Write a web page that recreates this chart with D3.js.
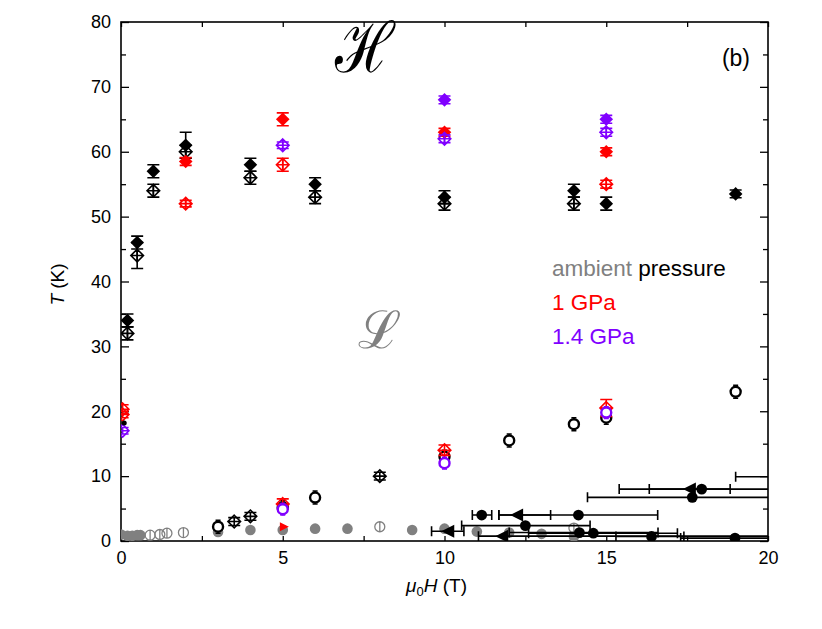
<!DOCTYPE html>
<html>
<head>
<meta charset="utf-8">
<script src="https://cdn.jsdelivr.net/npm/d3@7"></script>
<style>
  body { margin: 0; background: #fff; }
  text { font-family: "Liberation Sans", Arial, sans-serif; }
</style>
</head>
<body>
<div id="chart"></div>
<script>
// ---- data (mu0H in T, T in K, e = vertical error) ----
// high-T branch, ambient pressure
const ambHighFilled = [
  {h: 0.2, t: 34, e: 1}, {h: 0.5, t: 46, e: 1}, {h: 1, t: 57, e: 1}, {h: 2, t: 61, e: 2},
  {h: 4, t: 58, e: 1}, {h: 6, t: 55, e: 1}, {h: 10, t: 53, e: 1}, {h: 14, t: 54, e: 1},
  {h: 15, t: 52, e: 1}, {h: 19, t: 53.5, e: 0.6}
];
const ambHighOpen = [
  {h: 0.2, t: 32, e: 1}, {h: 0.5, t: 44, e: 2}, {h: 1, t: 54, e: 1}, {h: 2, t: 60, e: 1},
  {h: 4, t: 56, e: 1}, {h: 6, t: 53, e: 1}, {h: 10, t: 52, e: 1}, {h: 14, t: 52, e: 1}
];
const gpa1HighFilled = [
  {h: 2, t: 58.5, e: 0.6}, {h: 5, t: 65, e: 1}, {h: 10, t: 63, e: 0.6}, {h: 15, t: 60, e: 0.6}
];
const gpa1HighOpen = [
  {h: 2, t: 52, e: 0.5}, {h: 5, t: 58, e: 1}, {h: 15, t: 55, e: 0.6}
];
const gpa14HighFilled = [
  {h: 10, t: 68, e: 0.6}, {h: 15, t: 65, e: 0.6}
];
const gpa14HighOpen = [
  {h: 5, t: 61, e: 0.5}, {h: 10, t: 62, e: 0.6}, {h: 15, t: 63, e: 0.6}
];

// low-T branch
const ambLowCircle = [
  {h: 3, t: 2.2, e: 1}, {h: 5, t: 5.2, e: 1}, {h: 6, t: 6.7, e: 1}, {h: 10, t: 13, e: 1},
  {h: 12, t: 15.5, e: 1}, {h: 14, t: 18, e: 1}, {h: 15, t: 19, e: 1}, {h: 19, t: 23, e: 1}
];
const ambLowDiamond = [
  {h: 3.5, t: 3, e: 0.6}, {h: 4, t: 3.8, e: 0.6}, {h: 8, t: 10, e: 0.6}
];
const ambLowDot = [{h: 0.1, t: 18.2}];
const gpa1Low = [
  {h: 0.05, t: 20.3, e: 0.7}, {h: 0.05, t: 19.5, e: 0.5}, {h: 5, t: 5.7, e: 0.8},
  {h: 10, t: 14, e: 0.8}, {h: 15, t: 20.5, e: 1.3}
];
const gpa14Low = [
  {h: 0.05, t: 17, e: 0.5}, {h: 5, t: 4.9, e: 0.9}, {h: 10, t: 12, e: 0.9}, {h: 15, t: 19.8, e: 0.9}
];
const gpa1Tri = [{h: 5.05, t: 2.2}];

// ambient, lowest-T points (grey)
const greyFilled = [
  {h: 0.0, t: 1.0}, {h: 0.2, t: 0.8}, {h: 0.35, t: 0.8}, {h: 0.5, t: 0.9}, {h: 0.6, t: 0.9},
  {h: 3, t: 1.4}, {h: 4, t: 1.7}, {h: 5, t: 1.7}, {h: 6, t: 1.9}, {h: 7, t: 1.9},
  {h: 9, t: 1.7}, {h: 10, t: 1.9}, {h: 11, t: 1.45}, {h: 12, t: 1.3}, {h: 13, t: 1.1}, {h: 14, t: 0.7}
];
const greyOpen = [
  {h: 0.9, t: 0.9}, {h: 1.2, t: 1.0}, {h: 1.42, t: 1.2}, {h: 1.93, t: 1.3},
  {h: 8, t: 2.2}, {h: 14, t: 2.0}
];

// field sweeps, horizontal error bars (lo/hi in T)
const sweepCircle = [
  {h: 17.95, t: 8.0, lo: 16.33, hi: 18.83}, {h: 21.5, t: 9.9, lo: 19.0, hi: 24},
  {h: 17.66, t: 6.73, lo: 14.42, hi: 21}, {h: 11.15, t: 4.0, lo: 10.86, hi: 11.46},
  {h: 14.14, t: 4.0, lo: 11.68, hi: 16.59}, {h: 12.5, t: 2.37, lo: 10.53, hi: 14.5},
  {h: 14.17, t: 1.3, lo: 12.0, hi: 16.6}, {h: 14.6, t: 1.2, lo: 12.6, hi: 17.2},
  {h: 16.4, t: 0.7, lo: 15.3, hi: 17.4}, {h: 18.98, t: 0.45, lo: 17.3, hi: 21}
];
const sweepTriangle = [
  {h: 17.57, t: 8.0, lo: 15.4, hi: 21}, {h: 12.23, t: 4.0, lo: 11.68, hi: 13.28},
  {h: 10.1, t: 1.5, lo: 9.6, hi: 10.6}, {h: 11.77, t: 0.75, lo: 11.05, hi: 21}
];

const xTicks = [0, 5, 10, 15, 20];
const yTicks = [0, 10, 20, 30, 40, 50, 60, 70, 80];

const legendRows = [
  {parts: [["ambient", "#808080"], [" pressure", "#000"]]},
  {parts: [["1 GPa", "#ff0000"]]},
  {parts: [["1.4 GPa", "#8000ff"]]}
];

// ---- layout ----
const W = 822, H = 629;
const margin = {left: 121, right: 54, top: 22, bottom: 88};

const svg = d3.select("#chart").append("svg")
  .attr("width", W).attr("height", H);

const x = d3.scaleLinear().domain([0, 20]).range([margin.left, W - margin.right]);
const y = d3.scaleLinear().domain([0, 80]).range([H - margin.bottom, margin.top]);

svg.append("defs").append("clipPath").attr("id", "clip")
  .append("rect")
  .attr("x", x(0)).attr("y", y(80))
  .attr("width", x(20) - x(0)).attr("height", y(0) - y(80));

// axes (ticks inward on all four sides)
const xMinor = d3.range(0, 20.01, 2.5);
const yMinor = d3.range(0, 80.01, 5);

const gx = svg.append("g").attr("transform", "translate(0," + y(0) + ")");
gx.call(d3.axisBottom(x).tickValues(xMinor).tickSize(-5).tickFormat(d => xTicks.includes(d) ? d : ""));
const gxt = svg.append("g").attr("transform", "translate(0," + y(80) + ")");
gxt.call(d3.axisTop(x).tickValues(xMinor).tickSize(-5).tickFormat(""));

const gy = svg.append("g").attr("transform", "translate(" + x(0) + ",0)");
gy.call(d3.axisLeft(y).tickValues(yMinor).tickSize(-5).tickFormat(d => yTicks.includes(d) ? d : ""));
const gyr = svg.append("g").attr("transform", "translate(" + x(20) + ",0)");
gyr.call(d3.axisRight(y).tickValues(yMinor).tickSize(-5).tickFormat(""));

[gx, gxt, gy, gyr].forEach(g => {
  g.select(".domain").remove();
  g.selectAll(".tick line").attr("stroke", "#000").attr("stroke-width", 1.3);
  g.selectAll(".tick text").attr("font-size", 18).attr("fill", "#000")
    .style("font-family", "'Liberation Sans', Arial, sans-serif");
});
// longer major y ticks
gy.selectAll(".tick line").attr("x2", d => yTicks.includes(d) ? 8 : 5);
gyr.selectAll(".tick line").attr("x2", d => yTicks.includes(d) ? -8 : -5);
gx.selectAll(".tick text").attr("dy", "1.1em");
gy.selectAll(".tick text").attr("x", -10);

svg.append("rect")
  .attr("x", x(0)).attr("y", y(80))
  .attr("width", x(20) - x(0)).attr("height", y(0) - y(80))
  .attr("fill", "none").attr("stroke", "#000").attr("stroke-width", 1.6);

// axis titles
svg.append("text")
  .attr("x", (x(0) + x(20)) / 2 - 8).attr("y", 592)
  .attr("text-anchor", "middle").attr("font-size", 19)
  .html('<tspan font-style="italic">μ</tspan><tspan font-size="13" dy="4">0</tspan><tspan font-style="italic" dy="-4">H</tspan> (T)');

svg.append("text")
  .attr("transform", "translate(64," + (y(40) + 3) + ") rotate(-90)")
  .attr("text-anchor", "middle").attr("font-size", 19)
  .html('<tspan font-style="italic">T</tspan> (K)');

// ---- marks ----
const plot = svg.append("g").attr("clip-path", "url(#clip)");

function diamondPath(cx, cy, s) {
  return "M" + cx + "," + (cy - s) + "L" + (cx + s) + "," + cy +
         "L" + cx + "," + (cy + s) + "L" + (cx - s) + "," + cy + "Z";
}

function vErr(g, data, color, cap) {
  g.selectAll(null).data(data.filter(d => d.e)).enter().append("path")
    .attr("d", d => {
      const cx = x(d.h), y1 = y(d.t + d.e), y2 = y(d.t - d.e);
      return "M" + cx + "," + y1 + "V" + y2 +
             "M" + (cx - cap) + "," + y1 + "H" + (cx + cap) +
             "M" + (cx - cap) + "," + y2 + "H" + (cx + cap);
    })
    .attr("stroke", color).attr("stroke-width", 1.6).attr("fill", "none");
}

function filledDiamonds(data, color) {
  const g = plot.append("g");
  vErr(g, data, color, 6);
  g.selectAll(null).data(data).enter().append("path")
    .attr("d", d => diamondPath(x(d.h), y(d.t), 6.8))
    .attr("fill", color);
}

function openDiamonds(data, color, cross) {
  const g = plot.append("g");
  vErr(g, data, color, 6);
  g.selectAll(null).data(data).enter().append("path")
    .attr("d", d => {
      const cx = x(d.h), cy = y(d.t), s = 6.3;
      let p = diamondPath(cx, cy, s);
      p += "M" + (cx - s) + "," + cy + "H" + (cx + s);
      if (cross) p += "M" + cx + "," + (cy - s) + "V" + (cy + s);
      return p;
    })
    .attr("fill", "none").attr("stroke", color).attr("stroke-width", 1.6);
}

function openCircles(data, color) {
  const g = plot.append("g");
  vErr(g, data, color, 2.5);
  g.selectAll(null).data(data).enter().append("circle")
    .attr("cx", d => x(d.h)).attr("cy", d => y(d.t)).attr("r", 5.0)
    .attr("fill", "#fff").attr("stroke", color).attr("stroke-width", 2.4);
}

// grey ambient lowest points
const gGrey = plot.append("g");
gGrey.selectAll(null).data(greyFilled).enter().append("circle")
  .attr("cx", d => x(d.h)).attr("cy", d => y(d.t)).attr("r", 5.3)
  .attr("fill", "#808080");
gGrey.selectAll(null).data(greyOpen).enter().append("path")
  .attr("d", d => {
    const cx = x(d.h), cy = y(d.t), r = 5;
    return "M" + (cx - r) + "," + cy + "A" + r + "," + r + " 0 1,0 " + (cx + r) + "," + cy +
           "A" + r + "," + r + " 0 1,0 " + (cx - r) + "," + cy +
           "M" + cx + "," + (cy - r) + "V" + (cy + r);
  })
  .attr("fill", "none").attr("stroke", "#808080").attr("stroke-width", 1.3);

// field sweeps
const gSweep = plot.append("g");
[...sweepCircle, ...sweepTriangle].forEach(d => {
  const cy = y(d.t), x1 = x(d.lo), x2 = x(d.hi);
  gSweep.append("path")
    .attr("d", "M" + x1 + "," + cy + "H" + x2 +
               "M" + x1 + "," + (cy - 5) + "V" + (cy + 5) +
               "M" + x2 + "," + (cy - 5) + "V" + (cy + 5))
    .attr("stroke", "#000").attr("stroke-width", 1.6);
});
gSweep.selectAll(null).data(sweepCircle).enter().append("circle")
  .attr("cx", d => x(d.h)).attr("cy", d => y(d.t)).attr("r", 5.4).attr("fill", "#000");
gSweep.selectAll(null).data(sweepTriangle).enter().append("path")
  .attr("d", d => {
    const cx = x(d.h), cy = y(d.t), s = 6.5;
    return "M" + (cx - s) + "," + cy + "L" + (cx + s) + "," + (cy - s) + "L" + (cx + s) + "," + (cy + s) + "Z";
  })
  .attr("fill", "#000");

// low-T branch
openDiamonds(ambLowDiamond, "#000", false);
openCircles(ambLowCircle, "#000");
openDiamonds(gpa1Low, "#ff0000", false);
openCircles(gpa14Low.slice(1), "#8000ff");
openDiamonds(gpa14Low.slice(0, 1), "#8000ff", false);
plot.append("g").selectAll(null).data(ambLowDot).enter().append("circle")
  .attr("cx", d => x(d.h)).attr("cy", d => y(d.t)).attr("r", 2.5).attr("fill", "#000");
plot.append("g").selectAll(null).data(gpa1Tri).enter().append("path")
  .attr("d", d => {
    const cx = x(d.h), cy = y(d.t), s = 4.5;
    return "M" + (cx + s) + "," + cy + "L" + (cx - s) + "," + (cy - s) + "L" + (cx - s) + "," + (cy + s) + "Z";
  })
  .attr("fill", "#ff0000");

// high-T branch
openDiamonds(ambHighOpen, "#000", true);
filledDiamonds(ambHighFilled, "#000");
openDiamonds(gpa1HighOpen, "#ff0000", true);
filledDiamonds(gpa1HighFilled, "#ff0000");
openDiamonds(gpa14HighOpen, "#8000ff", true);
filledDiamonds(gpa14HighFilled, "#8000ff");

// ---- annotations ----
svg.append("text")
  .attr("transform", "translate(365,72) scale(1,1.25)")
  .attr("text-anchor", "middle")
  .attr("font-size", 56)
  .style("font-family", "'DejaVu Serif', serif")
  .text("ℋ");
svg.append("text")
  .attr("x", 379).attr("y", 348).attr("text-anchor", "middle")
  .attr("font-size", 52).attr("fill", "#808080")
  .style("font-family", "'DejaVu Serif', serif")
  .text("ℒ");
svg.append("text")
  .attr("x", 750).attr("y", 66).attr("text-anchor", "end")
  .attr("font-size", 23).text("(b)");

const legend = svg.append("g");
legendRows.forEach((row, i) => {
  const t = legend.append("text")
    .attr("x", 552).attr("y", 276 + i * 34).attr("font-size", 22.5);
  row.parts.forEach(p => t.append("tspan").attr("fill", p[1]).text(p[0]));
});
</script>
</body>
</html>
